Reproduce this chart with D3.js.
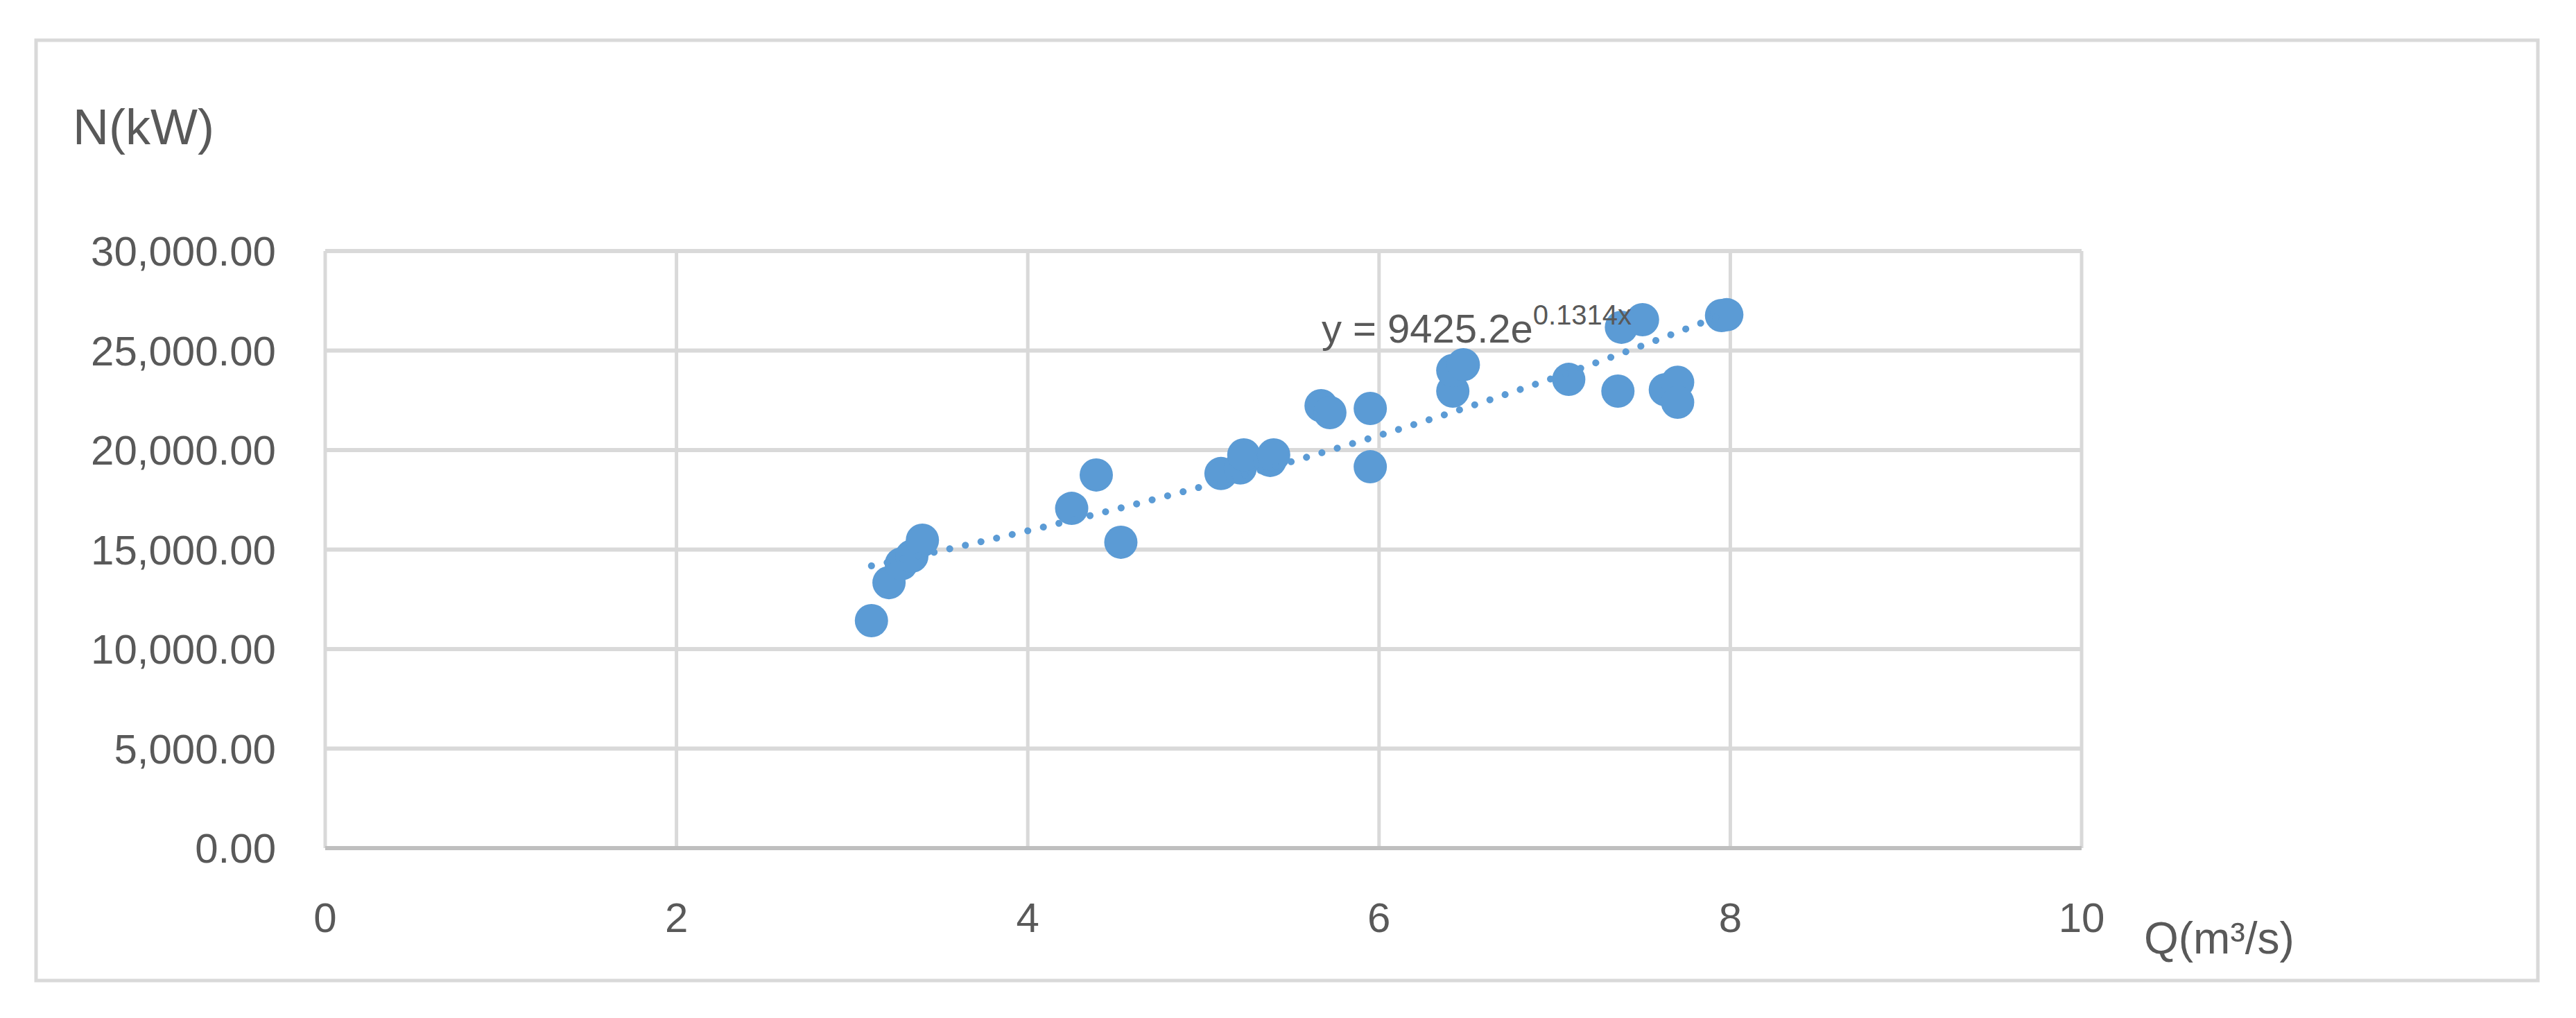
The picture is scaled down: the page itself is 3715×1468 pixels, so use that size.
<!DOCTYPE html>
<html><head><meta charset="utf-8">
<script src="https://cdn.jsdelivr.net/npm/d3@7"></script>
<style>body{margin:0;background:#fff}svg{display:block}</style>
</head><body>
<svg id="c" width="3715" height="1468"></svg>
<script>
const qValues = [3.11,3.21,3.28,3.34,3.40,4.25,4.39,4.53,5.10,5.21,5.23,5.38,5.40,5.67,5.72,5.95,5.95,6.42,6.42,6.48,7.08,7.36,7.38,7.50,7.63,7.70,7.70,7.95,7.98];
const nValues = [11430,13340,14280,14670,15470,17070,18750,15370,18820,19100,19760,19480,19760,22230,21880,22090,19160,22960,24000,24290,23550,22960,26170,26550,23030,23410,22400,26760,26800];
const xTicks = [0,2,4,6,8,10];
const yTicks = [0,5000,10000,15000,20000,25000,30000];
const trendA = 9425.2, trendB = 0.1314;
const trendRange = [3.11, 7.98];

const svg = d3.select("#c");
const font = "'Liberation Sans', Arial, sans-serif";
const txt = "#595959", grid = "#d9d9d9", blue = "#5b9bd5";
svg.append("rect").attr("x",52).attr("y",58).attr("width",3608).attr("height",1356)
  .attr("fill","#fff").attr("stroke",grid).attr("stroke-width",5);

const x = d3.scaleLinear().domain([0,10]).range([469,3002]);
const y = d3.scaleLinear().domain([0,30000]).range([1223,362]);

const g = svg.append("g");
xTicks.forEach(t=>g.append("line").attr("x1",x(t)).attr("x2",x(t)).attr("y1",y(30000)).attr("y2",y(0)).attr("stroke",grid).attr("stroke-width",5));
yTicks.forEach(t=>g.append("line").attr("x1",x(0)).attr("x2",x(10)).attr("y1",y(t)).attr("y2",y(t)).attr("stroke",grid).attr("stroke-width",6));
g.append("line").attr("x1",x(0)).attr("x2",x(10)).attr("y1",y(0)).attr("y2",y(0)).attr("stroke","#bfbfbf").attr("stroke-width",6);

const fmt = d3.format(",.2f");
yTicks.forEach(t=>svg.append("text").attr("x",398).attr("y",y(t)).attr("dy","0.35em")
  .attr("text-anchor","end").attr("font-family",font).attr("font-size",60).attr("fill",txt).text(fmt(t)));
xTicks.forEach(t=>svg.append("text").attr("x",x(t)).attr("y",1323).attr("dy","0.35em")
  .attr("text-anchor","middle").attr("font-family",font).attr("font-size",60).attr("fill",txt).text(t));

svg.append("text").attr("x",105).attr("y",183).attr("dy","0.35em").attr("font-family",font)
  .attr("font-size",72).attr("fill",txt).text("N(kW)");
svg.append("text").attr("x",3092).attr("y",1353).attr("dy","0.35em").attr("font-family",font)
  .attr("font-size",64).attr("fill",txt).text("Q(m³/s)");

svg.selectAll("circle.pt").data(qValues.map((q,i)=>[q,nValues[i]])).enter().append("circle")
  .attr("class","pt").attr("cx",d=>x(d[0])).attr("cy",d=>y(d[1])).attr("r",24).attr("fill",blue);

const tp = d3.range(trendRange[0], trendRange[1]+0.001, 0.02).map(v=>[v, trendA*Math.exp(trendB*v)]);
svg.append("path").attr("d",d3.line().x(d=>x(d[0])).y(d=>y(d[1]))(tp)).attr("fill","none")
  .attr("stroke",blue).attr("stroke-width",10).attr("stroke-linecap","round").attr("stroke-dasharray","0.1 23");

const eq = svg.append("text").attr("x",1906).attr("y",494).attr("font-family",font).attr("font-size",58).attr("fill",txt);
eq.append("tspan").text("y = "+trendA+"e");
eq.append("tspan").attr("font-size",40).attr("dy",-26).text(trendB+"x");
</script>
</body></html>
